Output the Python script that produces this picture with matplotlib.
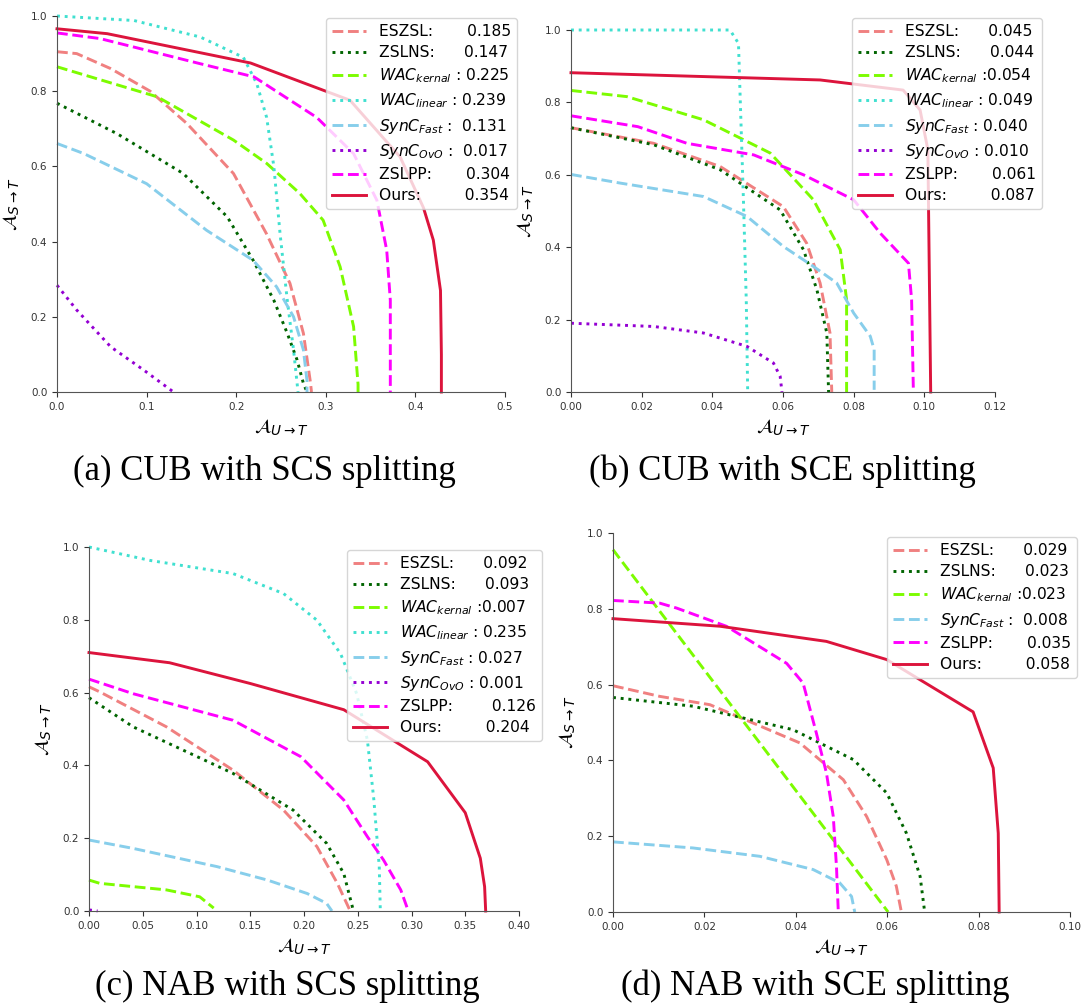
import matplotlib
matplotlib.use("Agg")
import matplotlib.pyplot as plt

# ---- method names / legend scores ----
methods = ["ESZSL", "ZSLNS", "WAC_kernal", "WAC_linear", "SynC_Fast", "SynC_OvO", "ZSLPP", "Ours"]
legend_names = ["ESZSL:", "ZSLNS:", r"$WAC_{kernal}$ :", r"$WAC_{linear}$ :",
                r"$SynC_{Fast}$ :", r"$SynC_{OvO}$ :", "ZSLPP:", "Ours:"]
cub_scs_auc = [0.185, 0.147, 0.225, 0.239, 0.131, 0.017, 0.304, 0.354]
cub_sce_auc = [0.045, 0.044, 0.054, 0.049, 0.040, 0.010, 0.061, 0.087]
nab_scs_auc = [0.092, 0.093, 0.007, 0.235, 0.027, 0.001, 0.126, 0.204]
nab_sce_auc = [0.029, 0.023, 0.023, 0.008, 0.035, 0.058]
nab_sce_methods = ["ESZSL", "ZSLNS", "WAC_kernal", "SynC_Fast", "ZSLPP", "Ours"]

# ---- (a) CUB, SCS ----
a_eszsl_x = [0, 0.022, 0.06, 0.104, 0.145, 0.197, 0.234, 0.26, 0.275, 0.283, 0.284]
a_eszsl_y = [0.905, 0.90, 0.86, 0.80, 0.714, 0.581, 0.42, 0.289, 0.156, 0.023, 0]
a_zslns_x = [0, 0.067, 0.141, 0.19, 0.219, 0.242, 0.257, 0.268, 0.275, 0.279]
a_zslns_y = [0.768, 0.687, 0.581, 0.466, 0.35, 0.244, 0.156, 0.085, 0.023, 0]
a_wack_x = [0, 0.112, 0.197, 0.234, 0.271, 0.297, 0.316, 0.331, 0.336, 0.336]
a_wack_y = [0.865, 0.785, 0.67, 0.608, 0.528, 0.457, 0.333, 0.174, 0.02, 0]
a_wacl_x = [0, 0.086, 0.16, 0.208, 0.223, 0.234, 0.242, 0.249, 0.257, 0.264, 0.269]
a_wacl_y = [1.0, 0.988, 0.944, 0.89, 0.82, 0.73, 0.60, 0.42, 0.244, 0.112, 0]
a_syncf_x = [0, 0.03, 0.10, 0.167, 0.219, 0.245, 0.264, 0.275, 0.279, 0.279]
a_syncf_y = [0.661, 0.634, 0.554, 0.43, 0.35, 0.28, 0.20, 0.112, 0.03, 0]
a_synco_x = [0, 0.022, 0.06, 0.097, 0.13]
a_synco_y = [0.284, 0.218, 0.12, 0.058, 0]
a_zslpp_x = [0, 0.048, 0.16, 0.22, 0.29, 0.331, 0.357, 0.368, 0.372, 0.372]
a_zslpp_y = [0.955, 0.94, 0.873, 0.838, 0.73, 0.634, 0.51, 0.377, 0.244, 0]
a_ours_x = [0, 0.056, 0.216, 0.30, 0.327, 0.383, 0.409, 0.42, 0.428, 0.429, 0.429]
a_ours_y = [0.966, 0.953, 0.875, 0.80, 0.776, 0.625, 0.49, 0.404, 0.27, 0.10, 0]

# ---- (b) CUB, SCE ----
b_eszsl_x = [0, 0.0234, 0.0422, 0.0601, 0.0667, 0.0705, 0.0733, 0.0738]
b_eszsl_y = [0.73, 0.687, 0.623, 0.512, 0.411, 0.301, 0.163, 0]
b_zslns_x = [0, 0.0234, 0.0422, 0.0592, 0.0658, 0.0696, 0.0724, 0.0729]
b_zslns_y = [0.73, 0.683, 0.614, 0.503, 0.393, 0.282, 0.163, 0]
b_wack_x = [0, 0.0158, 0.0375, 0.0564, 0.0686, 0.0762, 0.078, 0.078]
b_wack_y = [0.833, 0.816, 0.752, 0.66, 0.531, 0.393, 0.255, 0]
b_wacl_x = [0, 0.045, 0.0474, 0.0479, 0.0488, 0.0496, 0.050]
b_wacl_y = [1.0, 1.0, 0.963, 0.807, 0.531, 0.255, 0.006]
b_syncf_x = [0, 0.014, 0.0375, 0.0498, 0.0601, 0.0686, 0.0752, 0.080, 0.0847, 0.0858, 0.0858]
b_syncf_y = [0.601, 0.577, 0.54, 0.485, 0.402, 0.347, 0.301, 0.218, 0.154, 0.117, 0.006]
b_synco_x = [0, 0.0234, 0.0375, 0.0498, 0.0573, 0.0592, 0.0597]
b_synco_y = [0.19, 0.181, 0.163, 0.126, 0.08, 0.043, 0]
b_zslpp_x = [0, 0.0189, 0.0328, 0.0517, 0.0658, 0.080, 0.0875, 0.0955, 0.0964, 0.0969]
b_zslpp_y = [0.763, 0.733, 0.687, 0.655, 0.60, 0.531, 0.439, 0.356, 0.255, 0]
b_ours_x = [0, 0.0705, 0.094, 0.0988, 0.101, 0.1018]
b_ours_y = [0.882, 0.862, 0.834, 0.779, 0.669, 0]

# ---- (c) NAB, SCS ----
c_eszsl_x = [0, 0.01, 0.072, 0.134, 0.181, 0.212, 0.231, 0.243]
c_eszsl_y = [0.616, 0.602, 0.506, 0.387, 0.277, 0.177, 0.076, 0]
c_zslns_x = [0, 0.041, 0.134, 0.19, 0.221, 0.237, 0.246]
c_zslns_y = [0.586, 0.506, 0.378, 0.277, 0.186, 0.103, 0]
c_wack_x = [0, 0.01, 0.072, 0.103, 0.116]
c_wack_y = [0.085, 0.076, 0.058, 0.039, 0.008]
c_wacl_x = [0, 0.057, 0.134, 0.181, 0.212, 0.234, 0.249, 0.259, 0.265, 0.27, 0.271]
c_wacl_y = [1.0, 0.963, 0.927, 0.872, 0.799, 0.707, 0.597, 0.469, 0.305, 0.122, 0]
c_syncf_x = [0, 0.041, 0.119, 0.166, 0.203, 0.221, 0.226]
c_syncf_y = [0.195, 0.172, 0.122, 0.085, 0.048, 0.021, 0]
c_synco_x = [0, 0.008]
c_synco_y = [0.003, 0]
c_zslpp_x = [0, 0.041, 0.134, 0.197, 0.237, 0.259, 0.274, 0.29, 0.297]
c_zslpp_y = [0.637, 0.597, 0.524, 0.424, 0.305, 0.204, 0.14, 0.058, 0]
c_ours_x = [0, 0.075, 0.15, 0.237, 0.315, 0.35, 0.364, 0.368, 0.369]
c_ours_y = [0.71, 0.682, 0.625, 0.553, 0.41, 0.27, 0.145, 0.067, 0]

# ---- (d) NAB, SCE ----
d_eszsl_x = [0, 0.0102, 0.0212, 0.0409, 0.0504, 0.0555, 0.0599, 0.062, 0.0631]
d_eszsl_y = [0.597, 0.569, 0.547, 0.446, 0.349, 0.252, 0.138, 0.068, 0]
d_zslns_x = [0, 0.0175, 0.0394, 0.0526, 0.0599, 0.0642, 0.0672, 0.0682]
d_zslns_y = [0.566, 0.543, 0.481, 0.402, 0.314, 0.208, 0.094, 0]
d_wack_x = [0, 0.0602]
d_wack_y = [0.956, 0]
d_syncf_x = [0, 0.0175, 0.0321, 0.0438, 0.0496, 0.0522, 0.0529]
d_syncf_y = [0.185, 0.169, 0.147, 0.112, 0.077, 0.041, 0]
d_zslpp_x = [0, 0.0102, 0.0139, 0.0248, 0.0321, 0.038, 0.0416, 0.0445, 0.0467, 0.0482, 0.0489, 0.0493]
d_zslpp_y = [0.822, 0.815, 0.802, 0.754, 0.70, 0.656, 0.604, 0.472, 0.367, 0.252, 0.12, 0]
d_ours_x = [0, 0.0234, 0.0467, 0.0599, 0.0788, 0.0832, 0.0843, 0.0845]
d_ours_y = [0.774, 0.754, 0.714, 0.666, 0.528, 0.38, 0.208, 0]

# ---- styles ----
colors = {"ESZSL": "#f08080", "ZSLNS": "#006400", "WAC_kernal": "#7cfc00",
          "WAC_linear": "#40e0d0", "SynC_Fast": "#87ceeb", "SynC_OvO": "#9400d3",
          "ZSLPP": "#ff00ff", "Ours": "#dc143c"}
styles = {"ESZSL": "--", "ZSLNS": ":", "WAC_kernal": "--", "WAC_linear": ":",
          "SynC_Fast": "--", "SynC_OvO": ":", "ZSLPP": "--", "Ours": "-"}

W, H = 1088, 1007
fig = plt.figure(figsize=(W / 100, H / 100), dpi=100)


def px_axes(l, r, t, b):
    return fig.add_axes([l / W, 1 - b / H, (r - l) / W, (b - t) / H])


def panel(ax, curves, names, labels, xmax, xstep, legpos):
    for (x, y), m, lab in zip(curves, names, labels):
        ax.plot(x, y, styles[m], color=colors[m], lw=2.1, label=lab, clip_on=False)
    ax.set_xlim(0, xmax)
    ax.set_ylim(0, 1.0)
    n = int(round(xmax / xstep))
    ax.set_xticks([i * xstep for i in range(n + 1)])
    ax.set_yticks([0, 0.2, 0.4, 0.6, 0.8, 1.0])
    for s in ("top", "right"):
        ax.spines[s].set_visible(False)
    for s in ("left", "bottom"):
        ax.spines[s].set_color("#555555")
    ax.tick_params(labelsize=7.5, colors="#333333", length=3.5)
    ax.set_xlabel(r"$\mathcal{A}_{U\rightarrow T}$", fontsize=14, labelpad=4)
    ax.set_ylabel(r"$\mathcal{A}_{S\rightarrow T}$", fontsize=14, labelpad=6)
    ax.legend(loc="upper left", bbox_to_anchor=(legpos[0] / W, 1 - legpos[1] / H),
              bbox_transform=fig.transFigure, borderaxespad=0, fontsize=11.2,
              handlelength=2.2, labelspacing=0.4, framealpha=0.8, edgecolor="#cccccc")


def labs(names, aucs, pads):
    return [f"{n}{' ' * p}{v:.3f}" for n, v, p in zip(names, aucs, pads)]


ax_a = px_axes(57, 505, 16, 392)
panel(ax_a,
      [(a_eszsl_x, a_eszsl_y), (a_zslns_x, a_zslns_y), (a_wack_x, a_wack_y),
       (a_wacl_x, a_wacl_y), (a_syncf_x, a_syncf_y), (a_synco_x, a_synco_y),
       (a_zslpp_x, a_zslpp_y), (a_ours_x, a_ours_y)],
      methods, labs(legend_names, cub_scs_auc, [7, 6, 1, 1, 2, 2, 7, 9]), 0.5, 0.1, (326, 18))

ax_b = px_axes(571, 995, 30, 392)
panel(ax_b,
      [(b_eszsl_x, b_eszsl_y), (b_zslns_x, b_zslns_y), (b_wack_x, b_wack_y),
       (b_wacl_x, b_wacl_y), (b_syncf_x, b_syncf_y), (b_synco_x, b_synco_y),
       (b_zslpp_x, b_zslpp_y), (b_ours_x, b_ours_y)],
      methods, labs(legend_names, cub_sce_auc, [6, 6, 0, 1, 1, 1, 7, 9]), 0.12, 0.02, (852, 18))

ax_c = px_axes(89, 519, 547, 911)
panel(ax_c,
      [(c_eszsl_x, c_eszsl_y), (c_zslns_x, c_zslns_y), (c_wack_x, c_wack_y),
       (c_wacl_x, c_wacl_y), (c_syncf_x, c_syncf_y), (c_synco_x, c_synco_y),
       (c_zslpp_x, c_zslpp_y), (c_ours_x, c_ours_y)],
      methods, labs(legend_names, nab_scs_auc, [6, 6, 0, 1, 1, 1, 8, 9]), 0.40, 0.05, (347, 550))

nab_sce_labels = [legend_names[methods.index(m)] for m in nab_sce_methods]
ax_d = px_axes(613, 1070, 533, 912)
panel(ax_d,
      [(d_eszsl_x, d_eszsl_y), (d_zslns_x, d_zslns_y), (d_wack_x, d_wack_y),
       (d_syncf_x, d_syncf_y), (d_zslpp_x, d_zslpp_y), (d_ours_x, d_ours_y)],
      nab_sce_methods, labs(nab_sce_labels, nab_sce_auc, [6, 6, 0, 2, 7, 9]), 0.10, 0.02, (887, 537))

captions = ["(a) CUB with SCS splitting", "(b) CUB with SCE splitting",
            "(c) NAB with SCS splitting", "(d) NAB with SCE splitting"]
cap_pos = [(264, 471), (782, 471), (287, 986), (815, 986)]
for txt, (cx, cy) in zip(captions, cap_pos):
    fig.text(cx / W, 1 - cy / H, txt, ha="center", va="center",
             fontsize=25, family="Liberation Serif")

fig.savefig("out.png", dpi=100)
